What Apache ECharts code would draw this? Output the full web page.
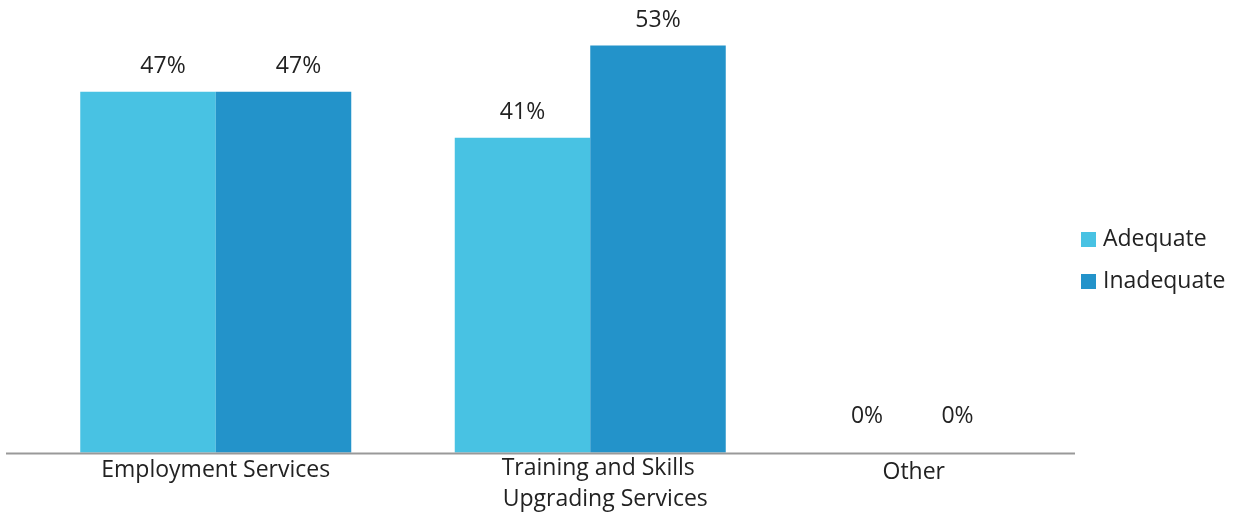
<!DOCTYPE html>
<html><head><meta charset="utf-8">
<script src="https://cdn.jsdelivr.net/npm/echarts@6/dist/echarts.min.js"></script>
<style>html,body{margin:0;padding:0;background:#fff}#c{width:1234px;height:514px}</style>
</head><body><div id="c"></div>
<script>
const categories = ['Employment Services', 'Training and Skills\nUpgrading Services', 'Other'];
const seriesNames = ['Adequate', 'Inadequate'];
const adequate = [47, 41, 0];
const inadequate = [47, 53, 0];
const colors = ['#48C2E3', '#2393CA'];

const font = '"Open Sans", sans-serif';
const FS = 23;
const chart = echarts.init(document.getElementById('c'));

// per-category label nudges, [series0, series1]
const labelNudge = [
  [[15, 0], [15, 0]],
  [[0, 0], [0, 0]],
  [[-30, -11], [-75, -11]]
];

function mk(vals, si) {
  return vals.map((v, i) => ({ value: v, label: { offset: labelNudge[i][si] } }));
}

chart.setOption({
  animation: false,
  textStyle: { fontFamily: font },
  grid: { left: 28.5, right: 1234 - 1152, top: 0, bottom: 61.5, containLabel: false, outerBoundsMode: 'none' },
  legend: {
    orient: 'vertical', left: 1076, top: 223, itemWidth: 15, itemHeight: 15, itemGap: 19,
    icon: 'rect',
    textStyle: { fontFamily: font, fontSize: FS, color: '#222', padding: [0, 0, 0, 2] },
    data: seriesNames
  },
  xAxis: {
    type: 'category', data: categories,
    axisLine: { show: false }, axisTick: { show: false },
    axisLabel: {
      interval: 0, margin: 0, fontSize: FS, color: '#222', fontFamily: font, lineHeight: 31,
      formatter: (v) => {
        if (v === 'Other') return '{o|' + v + '}';
        if (v.indexOf('\n') < 0) return '{e|' + v + '}';
        return v.split('\n').map((s, k) => (k === 0 ? '{t|' : '{u|') + s + '}').join('\n');
      },
      rich: {
        o: { fontSize: FS, color: '#222', fontFamily: font, lineHeight: 31, padding: [8, 102, 0, 0] },
        e: { fontSize: FS, color: '#222', fontFamily: font, lineHeight: 31, padding: [5, 0, 0, 0] },
        t: { fontSize: FS, color: '#222', fontFamily: font, lineHeight: 31, padding: [0, 0, 0, 16] },
        u: { fontSize: FS, color: '#222', fontFamily: font, lineHeight: 31, padding: [0, 0, 0, 30] }
      }
    }
  },
  yAxis: { type: 'value', min: 0, max: 58.94, show: false, splitLine: { show: false } },
  graphic: [{
    type: 'line', shape: { x1: 6, y1: 453.5, x2: 1075, y2: 453.5 },
    style: { stroke: '#999', lineWidth: 2 }, z: 10
  }],
  series: [0, 1].map(si => ({
    name: seriesNames[si], type: 'bar',
    data: mk(si === 0 ? adequate : inadequate, si),
    barWidth: 135.5, barGap: '0%',
    itemStyle: { color: colors[si] },
    label: {
      show: true, position: 'top', distance: 14, fontSize: FS, color: '#222', fontFamily: font,
      formatter: p => p.value + '%'
    }
  }))
});
</script></body></html>
